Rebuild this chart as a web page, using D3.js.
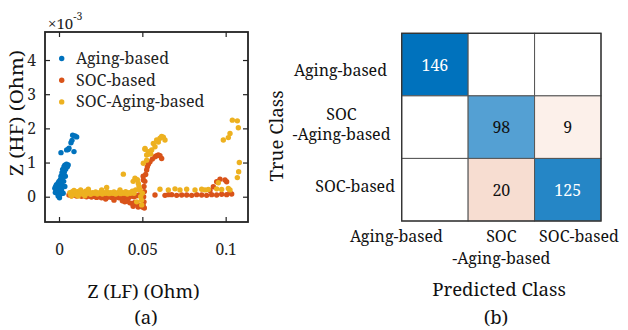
<!DOCTYPE html>
<html>
<head>
<meta charset="utf-8">
<script src="https://cdn.jsdelivr.net/npm/d3@7"></script>
<style>
  html, body { margin: 0; padding: 0; background: #fff; }
  svg { display: block; }
  text { font-family: "Noto Serif", "DejaVu Serif", serif; fill: #111; }
</style>
</head>
<body>
<svg id="chart" width="628" height="330"></svg>
<script>
// ---------------- DATA ----------------
// Panel (a): scatter, x in Ohm, y in 1e-3 Ohm
const seriesNames = ["Aging-based", "SOC-based", "SOC-Aging-based"];
const seriesColors = ["#0072BD", "#D95319", "#EDB120"];

const agingBased = [
  [-0.0025,0.25],[-0.002,0.3],[-0.0018,0.18],[-0.0015,0.35],[-0.001,0.1],[-0.001,0.28],
  [-0.0005,0.02],[-0.0005,0.4],[0,0.05],[0,0.22],[0,0.45],[0.0003,-0.03],[0.0005,0.15],
  [0.0005,0.35],[0.0008,0.5],[0.001,0.08],[0.001,0.28],[0.0012,0.6],[0.0015,0.42],
  [0.0015,0.2],[0.0018,0.7],[0.002,0.55],[0.002,0.32],[0.0022,0.8],[0.0025,0.65],
  [0.0028,0.45],[0.003,0.88],[0.0032,0.72],[0.0035,0.92],[0.0038,0.6],[0.004,0.8],
  [0.0045,0.95],[0.005,0.88],[0.0055,0.93],[0.0025,0.1],[0.0035,0.3],[-0.0022,0.12],
  [0.0012,1.29],[0.0046,1.37],[0.0055,1.38],[0.0072,1.58],[0.0082,1.8],[0.0106,1.75],
  [0.009,1.32],[0.0078,1.65],[0.0096,1.78],[0.006,1.42]
];

const socBased = [
  [0.006,0.05],[0.0075,0.03],[0.009,0.06],[0.0105,0.02],[0.012,0.04],[0.0135,0.01],
  [0.015,0.03],[0.0165,0.0],[0.018,0.02],[0.0195,-0.01],[0.021,0.01],[0.0225,-0.02],
  [0.024,0.0],[0.0255,-0.03],[0.027,-0.01],[0.0285,-0.03],[0.03,0.0],[0.0315,-0.02],
  [0.033,-0.04],[0.0345,-0.01],[0.036,-0.03],[0.0375,0.0],[0.039,-0.02],[0.0405,0.01],
  [0.042,-0.02],[0.0435,0.02],[0.045,0.0],[0.0465,0.03],[0.048,0.05],
  [0.033,-0.1],[0.028,-0.07],
  [0.038,-0.12],[0.0395,-0.15],[0.041,-0.13],[0.0425,-0.18],[0.044,-0.2],[0.0455,-0.17],
  [0.047,-0.22],[0.0485,-0.26],[0.05,-0.3],[0.0512,-0.33],[0.0505,-0.25],[0.0445,-0.28],
  [0.0475,-0.3],
  [0.051,-0.15],[0.0508,0.0],[0.0512,0.15],[0.051,0.3],[0.0515,0.45],[0.0505,0.6],
  [0.0506,0.49],[0.0526,0.78],[0.053,0.88],[0.0546,1.02],[0.056,1.1],[0.0576,1.17],
  [0.0586,1.2],[0.0596,1.22],[0.0606,1.2],[0.0616,1.12],[0.0536,0.95],[0.052,0.65],
  [0.0576,0.05],[0.0636,0.04],[0.0676,0.06],[0.0706,0.04],[0.0736,0.05],[0.0796,0.04],
  [0.0826,0.06],[0.0856,0.05],[0.0886,0.04],[0.0916,0.06],[0.0946,0.05],[0.0976,0.07],
  [0.1006,0.06],[0.1036,0.08],[0.0656,0.06],[0.0766,0.05],
  [0.0926,0.29],[0.0946,0.44],[0.0966,0.51],[0.0996,0.49],[0.1006,0.44],[0.1026,0.12],
  [0.0906,0.18]
];

const socAgingBased = [
  [0.0065,0.12],[0.007,0.06],[0.008,0.15],[0.0085,0.08],[0.0095,0.12],[0.0105,0.05],
  [0.011,0.15],[0.012,0.1],[0.013,0.14],[0.014,0.08],[0.015,0.12],[0.016,0.16],
  [0.017,0.1],[0.018,0.13],[0.019,0.07],[0.02,0.12],[0.021,0.1],[0.022,0.14],
  [0.023,0.08],[0.024,0.11],[0.025,0.13],[0.026,0.08],[0.027,0.12],[0.028,0.1],
  [0.029,0.14],[0.03,0.09],[0.031,0.12],[0.032,0.1],[0.033,0.14],[0.034,0.08],
  [0.035,0.11],[0.036,0.13],[0.037,0.09],[0.038,0.12],[0.039,0.1],[0.04,0.15],
  [0.041,0.08],[0.042,0.12],[0.043,0.1],[0.044,0.16],[0.045,0.1],[0.046,0.2],
  [0.0075,0.02],[0.009,0.18],[0.0115,0.02],[0.013,0.2],[0.0155,0.03],[0.0175,0.19],
  [0.0176,0.22],[0.0286,0.27],[0.0366,0.2],[0.0386,0.66],[0.0256,0.2],
  [0.0456,0.54],[0.0476,0.39],[0.0486,0.2],[0.0496,-0.24],[0.0466,-0.15],[0.048,0.3],
  [0.0445,0.45],[0.047,0.5],[0.049,0.0],[0.0495,-0.1],[0.05,0.1],
  [0.0506,0.98],[0.0516,1.39],[0.0526,1.07],[0.0536,1.25],[0.0516,1.41],[0.0536,1.32],
  [0.0526,1.22],[0.0566,1.56],[0.0586,1.66],[0.0606,1.71],[0.0626,1.74],[0.0636,1.66],
  [0.0576,1.46],[0.0556,1.37],[0.0616,1.76],[0.0596,1.6],[0.055,1.25],
  [0.0606,0.22],[0.0656,0.2],[0.0696,0.23],[0.0726,0.2],[0.0766,0.22],[0.0856,0.22],
  [0.0876,0.2],[0.0946,0.23],[0.0976,0.21],[0.1016,0.24],[0.1026,0.2],[0.0816,0.2],
  [0.0896,0.21],[0.0956,0.41],
  [0.0986,1.66],[0.1016,1.73],[0.1026,1.85],[0.104,2.24],[0.107,2.22],[0.1076,2.02],
  [0.1082,1.0],[0.1078,0.73],[0.107,0.56]
];

const xTicks = [0, 0.05, 0.1];
const xTickLabels = ["0", "0.05", "0.1"];
const yTicks = [0, 1, 2, 3, 4];
const yTickLabels = ["0", "1", "2", "3", "4"];

// Panel (b): confusion matrix
const classKeys = ["aging", "socAging", "soc"];
const rowLabels = [["Aging-based"], ["SOC", "-Aging-based"], ["SOC-based"]];
const colLabels = [["Aging-based"], ["SOC", "-Aging-based"], ["SOC-based"]];
const confusion = [
  [146, 0, 0],
  [0, 98, 9],
  [0, 20, 125]
];

// ---------------- DRAW ----------------
const svg = d3.select("#chart");
const fsTick = 15.6, fsLeg = 16, fsLab = 18.6, fsCell = 16;

// ----- Panel (a) -----
const ax = { left: 45, right: 248, top: 32, bottom: 222 };
const x = d3.scaleLinear().domain([-0.0084, 0.1134]).range([ax.left, ax.right]);
const y = d3.scaleLinear().domain([-0.74, 4.82]).range([ax.bottom, ax.top]);

const gA = svg.append("g");
svg.append("defs").append("clipPath").attr("id", "clipA")
  .append("rect").attr("x", ax.left).attr("y", ax.top)
  .attr("width", ax.right - ax.left).attr("height", ax.bottom - ax.top);

const allSeries = [agingBased, socBased, socAgingBased];
const pts = gA.append("g").attr("clip-path", "url(#clipA)");
allSeries.forEach((s, i) => {
  pts.append("g").selectAll("circle").data(s).join("circle")
    .attr("cx", d => x(d[0])).attr("cy", d => y(d[1]))
    .attr("r", 2.7).attr("fill", seriesColors[i]);
});

// axes with inward ticks on all sides
const tickLen = 5;
const axBottom = d3.axisBottom(x).tickValues(xTicks).tickSize(-tickLen).tickFormat((d, i) => xTickLabels[i]).tickPadding(22);
const axTop = d3.axisTop(x).tickValues(xTicks).tickSize(-tickLen).tickFormat("");
const axLeft = d3.axisLeft(y).tickValues(yTicks).tickSize(-tickLen).tickFormat((d, i) => yTickLabels[i]).tickPadding(9);
const axRight = d3.axisRight(y).tickValues(yTicks).tickSize(-tickLen).tickFormat("");

function styleAxis(g) {
  g.select(".domain").remove();
  g.selectAll(".tick line").attr("stroke", "#222").attr("stroke-width", 1.2);
  g.selectAll(".tick text").attr("font-size", fsTick).style("fill", "#222");
}
gA.append("g").attr("transform", `translate(0,${ax.bottom})`).call(axBottom).call(styleAxis);
gA.append("g").attr("transform", `translate(0,${ax.top})`).call(axTop).call(styleAxis);
gA.append("g").attr("transform", `translate(${ax.left},0)`).call(axLeft).call(styleAxis);
gA.append("g").attr("transform", `translate(${ax.right},0)`).call(axRight).call(styleAxis);

gA.append("rect").attr("x", ax.left).attr("y", ax.top)
  .attr("width", ax.right - ax.left).attr("height", ax.bottom - ax.top)
  .attr("fill", "none").attr("stroke", "#222").attr("stroke-width", 1.8);

// exponent label
const ex = gA.append("text").attr("x", ax.left + 3).attr("y", 29).attr("font-size", 15).style("fill", "#222");
ex.append("tspan").text("×10");
ex.append("tspan").attr("dy", -9).attr("font-size", 10.5).text("-3");

// legend
const leg = gA.append("g");
seriesNames.forEach((n, i) => {
  const cy = 58.5 + i * 21.7;
  leg.append("circle").attr("cx", 61.7).attr("cy", cy).attr("r", 2.7).attr("fill", seriesColors[i]);
  leg.append("text").attr("x", 76).attr("y", cy + 5.5).attr("font-size", fsLeg).style("fill", "#222").text(n);
});

// axis labels
gA.append("text").attr("x", 143.5).attr("y", 298).attr("text-anchor", "middle")
  .attr("font-size", fsLab).text("Z (LF) (Ohm)");
gA.append("text").attr("transform", "translate(23,113) rotate(-90)").attr("text-anchor", "middle")
  .attr("font-size", fsLab).attr("textLength", 126).attr("lengthAdjust", "spacingAndGlyphs").text("Z (HF) (Ohm)");
gA.append("text").attr("x", 146).attr("y", 324).attr("text-anchor", "middle")
  .attr("font-size", fsLab).text("(a)");

// ----- Panel (b) -----
const mx = d3.scaleBand().domain(classKeys).range([401.7, 601]);
const my = d3.scaleBand().domain(classKeys).range([33.3, 221]);
const diagColor = d3.scaleLinear().domain([0, 146]).range(["#ffffff", "#0072BD"]);
const offColor = d3.scaleLinear().domain([0, 100]).range(["#ffffff", "#D95319"]);

const cells = [];
confusion.forEach((row, r) => row.forEach((v, c) => cells.push({ r, c, v })));

const gB = svg.append("g");
gB.selectAll("rect.cell").data(cells).join("rect").attr("class", "cell")
  .attr("x", d => mx(classKeys[d.c])).attr("y", d => my(classKeys[d.r]))
  .attr("width", mx.bandwidth()).attr("height", my.bandwidth())
  .attr("fill", d => d.v === 0 ? "#ffffff" : (d.r === d.c ? diagColor(d.v) : offColor(d.v)))
  .attr("stroke", "#555").attr("stroke-width", 1);

gB.selectAll("text.val").data(cells.filter(d => d.v > 0)).join("text").attr("class", "val")
  .attr("x", d => mx(classKeys[d.c]) + mx.bandwidth() / 2)
  .attr("y", d => my(classKeys[d.r]) + my.bandwidth() / 2 + 6)
  .attr("text-anchor", "middle").attr("font-size", fsCell)
  .style("fill", d => (d.r === d.c && d.v / 146 > 0.75) ? "#ffffff" : "#111")
  .text(d => d.v);

gB.append("rect").attr("x", 401.7).attr("y", 33.3).attr("width", 601 - 401.7).attr("height", 221 - 33.3)
  .attr("fill", "none").attr("stroke", "#333").attr("stroke-width", 1.3);

// row labels (right aligned, multi-line centered as a block)
const rowDy = [11.5, -6.7, 2];
rowLabels.forEach((lines, r) => {
  const cy = my(classKeys[r]) + my.bandwidth() / 2 + rowDy[r];
  if (lines.length === 1) {
    gB.append("text").attr("x", r === 2 ? 395 : 387).attr("y", cy).attr("text-anchor", "end")
      .attr("font-size", fsLeg).text(lines[0]);
  } else {
    const t = gB.append("text").attr("x", 341.5).attr("y", cy).attr("text-anchor", "middle").attr("font-size", fsLeg);
    lines.forEach((l, k) => t.append("tspan").attr("x", 341.5).attr("dy", k === 0 ? 0 : 20).text(l));
  }
});

// column labels
const colAnchor = ["end", "middle", "start"];
const colShift = [443 - 435, 0, 539 - 567.7];
colLabels.forEach((lines, c) => {
  const cx = mx(classKeys[c]) + mx.bandwidth() / 2 + colShift[c];
  const t = gB.append("text").attr("x", cx).attr("y", 241.5).attr("text-anchor", colAnchor[c]).attr("font-size", fsLeg);
  lines.forEach((l, k) => t.append("tspan").attr("x", cx).attr("dy", k === 0 ? 0 : 22.5).text(l));
});

gB.append("text").attr("x", 499).attr("y", 296).attr("text-anchor", "middle")
  .attr("font-size", fsLab).text("Predicted Class");
gB.append("text").attr("transform", "translate(283,136) rotate(-90)").attr("text-anchor", "middle")
  .attr("font-size", fsLab).text("True Class");
gB.append("text").attr("x", 496).attr("y", 324).attr("text-anchor", "middle")
  .attr("font-size", fsLab).text("(b)");
</script>
</body>
</html>
